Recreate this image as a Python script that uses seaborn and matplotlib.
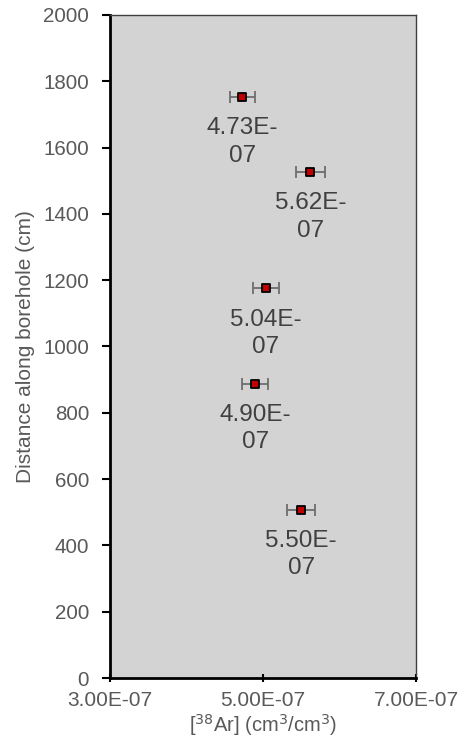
import numpy as np
import pandas as pd
import matplotlib
matplotlib.use("Agg")
import matplotlib.pyplot as plt
import seaborn as sns

# values
ar38 = [4.73e-7, 5.62e-7, 5.04e-7, 4.90e-7, 5.50e-7]
ar38_err = [1.6e-8, 1.9e-8, 1.7e-8, 1.7e-8, 1.85e-8]
distance = [1752, 1526, 1175, 888, 508]
point_labels = ["4.73E-\n07", "5.62E-\n07", "5.04E-\n07", "4.90E-\n07", "5.50E-\n07"]

x_ticks = [3e-7, 5e-7, 7e-7]
x_tick_labels = ["3.00E-07", "5.00E-07", "7.00E-07"]
y_ticks = list(range(0, 2001, 200))

df = pd.DataFrame({"ar38": ar38, "err": ar38_err, "dist": distance, "label": point_labels})

sns.set_style("white")
plt.rcParams['font.family'] = ['Liberation Sans', 'DejaVu Sans']

fig = plt.figure(figsize=(4.67, 7.53), dpi=100)
ax = fig.add_axes([0.2355, 0.0996, 0.6553, 0.8805])
ax.set_facecolor("#d3d3d3")

# error bars first, then the red squares on top
ax.errorbar(df["ar38"], df["dist"], xerr=df["err"], fmt="none",
            ecolor="#6e6e6e", elinewidth=1.3, capsize=4.5, capthick=1.3, zorder=2)
sns.scatterplot(data=df, x="ar38", y="dist", ax=ax, marker="s", s=40,
                color="#c00000", edgecolor="black", linewidth=1.3, zorder=3, legend=False)

for _, r in df.iterrows():
    ax.annotate(r["label"], (r["ar38"], r["dist"]), xytext=(0, -14.5),
                textcoords="offset points", ha="center", va="top",
                fontsize=17.5, color="#404040", linespacing=1.32)

ax.set_xlim(3e-7, 7e-7)
ax.set_ylim(0, 2000)
ax.set_xticks(x_ticks)
ax.set_xticklabels(x_tick_labels)
ax.set_yticks(y_ticks)

for side in ["top", "right"]:
    ax.spines[side].set_color("#404040")
    ax.spines[side].set_linewidth(1.0)
for side in ["left", "bottom"]:
    ax.spines[side].set_color("black")
    ax.spines[side].set_linewidth(2.0)

ax.tick_params(axis="y", direction="out", length=6, width=1.5, color="black",
               labelsize=14.8, labelcolor="#595959", left=True, pad=9)
ax.tick_params(axis="x", direction="inout", length=6, width=1.5, color="black",
               labelsize=15, labelcolor="#595959", bottom=True, pad=6)

ax.set_xlabel("[$^{38}$Ar] (cm$^{3}$/cm$^{3}$)", fontsize=14.5, color="#595959", labelpad=2)
ax.set_ylabel("Distance along borehole (cm)", fontsize=15, color="#595959", labelpad=6)

fig.savefig("out.png", dpi=100)
